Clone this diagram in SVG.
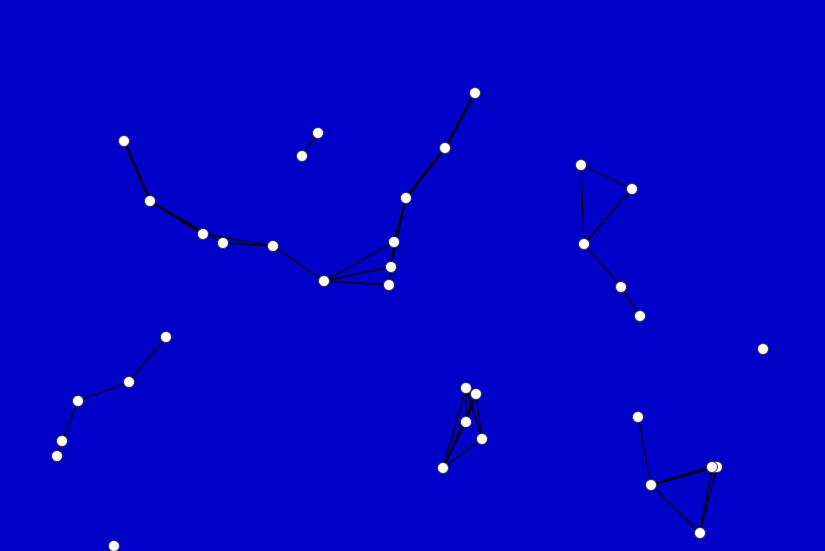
<svg xmlns="http://www.w3.org/2000/svg" width="825" height="551" viewBox="0 0 825 551">
<style>
.e{stroke:#000;stroke-width:1.3;fill:none}
.t{stroke-width:2.2}
.n{fill:#fff;stroke:#333;stroke-width:1}
</style>
<rect width="825" height="551" fill="#0000c8"/>
<g id="edges">
<line class="e t" x1="124" y1="141" x2="150" y2="201"/>
<line class="e t" x1="150" y1="201" x2="203" y2="234"/>
<line class="e" x1="150" y1="201" x2="223" y2="243"/>
<line class="e" x1="203" y1="234" x2="273" y2="246"/>
<line class="e" x1="223" y1="243" x2="273" y2="246"/>
<line class="e" x1="273" y1="246" x2="324" y2="281"/>
<line class="e" x1="318" y1="133" x2="302" y2="156"/>
<line class="e t" x1="475" y1="93" x2="445" y2="148"/>
<line class="e t" x1="445" y1="148" x2="406" y2="198"/>
<line class="e" x1="406" y1="198" x2="394" y2="242"/>
<line class="e" x1="406" y1="198" x2="391" y2="267"/>
<line class="e" x1="394" y1="242" x2="391" y2="267"/>
<line class="e" x1="391" y1="267" x2="389" y2="285"/>
<line class="e" x1="324" y1="281" x2="394" y2="242"/>
<line class="e" x1="324" y1="281" x2="391" y2="267"/>
<line class="e" x1="324" y1="281" x2="389" y2="285"/>
<line class="e" x1="443" y1="468" x2="466" y2="388"/>
<line class="e" x1="443" y1="468" x2="476" y2="394"/>
<line class="e" x1="443" y1="468" x2="466" y2="422"/>
<line class="e" x1="443" y1="468" x2="482" y2="439"/>
<line class="e" x1="466" y1="388" x2="482" y2="439"/>
<line class="e" x1="476" y1="394" x2="482" y2="439"/>
<line class="e" x1="466" y1="388" x2="466" y2="422"/>
<line class="e" x1="476" y1="394" x2="466" y2="422"/>
<line class="e" x1="581" y1="165" x2="632" y2="189"/>
<line class="e" x1="581" y1="165" x2="584" y2="244"/>
<line class="e" x1="632" y1="189" x2="584" y2="244"/>
<line class="e" x1="584" y1="244" x2="621" y2="287"/>
<line class="e" x1="621" y1="287" x2="640" y2="316"/>
<line class="e" x1="166" y1="337" x2="129" y2="382"/>
<line class="e" x1="129" y1="382" x2="78" y2="401"/>
<line class="e" x1="78" y1="401" x2="62" y2="441"/>
<line class="e" x1="62" y1="441" x2="57" y2="456"/>
<line class="e" x1="638" y1="417" x2="651" y2="485"/>
<line class="e t" x1="651" y1="485" x2="712" y2="467"/>
<line class="e" x1="651" y1="485" x2="717" y2="467"/>
<line class="e" x1="651" y1="485" x2="700" y2="533"/>
<line class="e" x1="712" y1="467" x2="700" y2="533"/>
<line class="e" x1="717" y1="467" x2="700" y2="533"/>
</g>
<g id="n1"><circle class="n" cx="124" cy="141" r="5.5"/></g>
<g id="n2"><circle class="n" cx="150" cy="201" r="5.5"/></g>
<g id="n3"><circle class="n" cx="203" cy="234" r="5.5"/></g>
<g id="n4"><circle class="n" cx="223" cy="243" r="5.5"/></g>
<g id="n5"><circle class="n" cx="273" cy="246" r="5.5"/></g>
<g id="n6"><circle class="n" cx="324" cy="281" r="5.5"/></g>
<g id="n7"><circle class="n" cx="318" cy="133" r="5.5"/></g>
<g id="n8"><circle class="n" cx="302" cy="156" r="5.5"/></g>
<g id="n9"><circle class="n" cx="475" cy="93" r="5.5"/></g>
<g id="n10"><circle class="n" cx="445" cy="148" r="5.5"/></g>
<g id="n11"><circle class="n" cx="406" cy="198" r="5.5"/></g>
<g id="n12"><circle class="n" cx="394" cy="242" r="5.5"/></g>
<g id="n13"><circle class="n" cx="391" cy="267" r="5.5"/></g>
<g id="n14"><circle class="n" cx="389" cy="285" r="5.5"/></g>
<g id="n15"><circle class="n" cx="466" cy="388" r="5.5"/></g>
<g id="n16"><circle class="n" cx="476" cy="394" r="5.5"/></g>
<g id="n17"><circle class="n" cx="466" cy="422" r="5.5"/></g>
<g id="n18"><circle class="n" cx="482" cy="439" r="5.5"/></g>
<g id="n19"><circle class="n" cx="443" cy="468" r="5.5"/></g>
<g id="n20"><circle class="n" cx="581" cy="165" r="5.5"/></g>
<g id="n21"><circle class="n" cx="632" cy="189" r="5.5"/></g>
<g id="n22"><circle class="n" cx="584" cy="244" r="5.5"/></g>
<g id="n23"><circle class="n" cx="621" cy="287" r="5.5"/></g>
<g id="n24"><circle class="n" cx="640" cy="316" r="5.5"/></g>
<g id="n25"><circle class="n" cx="166" cy="337" r="5.5"/></g>
<g id="n26"><circle class="n" cx="129" cy="382" r="5.5"/></g>
<g id="n27"><circle class="n" cx="78" cy="401" r="5.5"/></g>
<g id="n28"><circle class="n" cx="62" cy="441" r="5.5"/></g>
<g id="n29"><circle class="n" cx="57" cy="456" r="5.5"/></g>
<g id="n30"><circle class="n" cx="638" cy="417" r="5.5"/></g>
<g id="n31"><circle class="n" cx="651" cy="485" r="5.5"/></g>
<g id="n32"><circle class="n" cx="717" cy="467" r="5.5"/></g>
<g id="n33"><circle class="n" cx="712" cy="467" r="5.5"/></g>
<g id="n34"><circle class="n" cx="700" cy="533" r="5.5"/></g>
<g id="n35"><circle class="n" cx="114" cy="546" r="5.5"/></g>
<g id="n36"><circle class="n" cx="763" cy="349" r="5.5"/></g>
</svg>
